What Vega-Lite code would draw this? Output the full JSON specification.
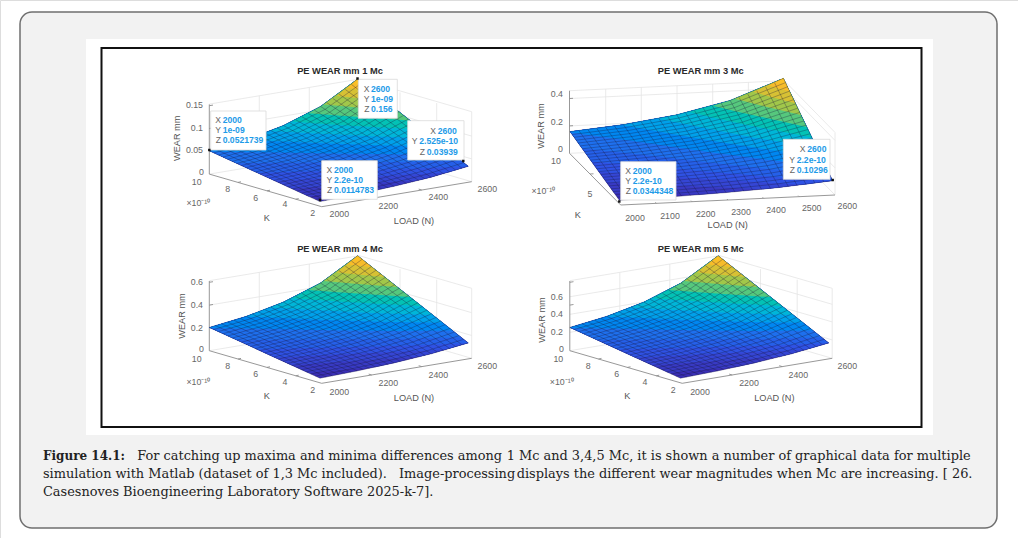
{
"$schema":"https://vega.github.io/schema/vega-lite/v6.json",
"width":1018,"height":538,"padding":0,"autosize":"none","background":"#ffffff",
"datasets":{
"page":[
{"x":20,"y":12,"x2":997,"y2":528,"kind":"frame"}],
"sheet":[
{"x":86,"y":39,"x2":933,"y2":435}],
"border":[
{"x":101.5,"y":48,"x2":921.5,"y2":427}],
"tips":[
{"x":210.7,"y":111,"x2":266,"y2":150},{"x":358.3,"y":79.3,"x2":397.3,"y2":118.3},{"x":407.7,"y":120.7,"x2":464,"y2":160},{"x":321.7,"y":160.7,"x2":377.3,"y2":199.3},
{"x":620.7,"y":161.7,"x2":676,"y2":200},{"x":783.3,"y":139.3,"x2":830,"y2":179.3}],
"tipPoints":[
{"x":209.3,"y":150},{"x":357.5,"y":78.5},{"x":463.3,"y":161},{"x":320,"y":200},{"x":619.3,"y":201.5},{"x":832.7,"y":180}],
"tipKeys":[
{"x":221,"y":119.7,"s":"X"},{"x":221,"y":129.7,"s":"Y"},{"x":221,"y":140,"s":"Z"},
{"x":369.5,"y":88.7,"s":"X"},{"x":369.5,"y":99.3,"s":"Y"},{"x":369.5,"y":109.3,"s":"Z"},
{"x":436,"y":131,"s":"X"},{"x":417.6,"y":141.3,"s":"Y"},{"x":425,"y":151.7,"s":"Z"},
{"x":332.3,"y":170,"s":"X"},{"x":332.3,"y":180.3,"s":"Y"},{"x":332.3,"y":190.3,"s":"Z"},
{"x":631,"y":170.7,"s":"X"},{"x":631,"y":181,"s":"Y"},{"x":631,"y":191.3,"s":"Z"},
{"x":805.6,"y":149.3,"s":"X"},{"x":795,"y":160,"s":"Y"},{"x":795,"y":170.3,"s":"Z"}],
"tipValues":[
{"x":222.7,"y":119.7,"s":"2000"},{"x":222.7,"y":129.7,"s":"1e-09"},{"x":222.7,"y":140,"s":"0.0521739"},
{"x":371,"y":88.7,"s":"2600"},{"x":371,"y":99.3,"s":"1e-09"},{"x":371,"y":109.3,"s":"0.156"},
{"x":437.7,"y":131,"s":"2600"},{"x":419.3,"y":141.3,"s":"2.525e-10"},{"x":426.7,"y":151.7,"s":"0.03939"},
{"x":334,"y":170,"s":"2000"},{"x":334,"y":180.3,"s":"2.2e-10"},{"x":334,"y":190.3,"s":"0.0114783"},
{"x":632.7,"y":170.7,"s":"2000"},{"x":632.7,"y":181,"s":"2.2e-10"},{"x":632.7,"y":191.3,"s":"0.0344348"},
{"x":807.3,"y":149.3,"s":"2600"},{"x":796.7,"y":160,"s":"2.2e-10"},{"x":796.7,"y":170.3,"s":"0.10296"}],
"titles":[
{"x":340,"y":71,"s":"PE WEAR mm 1 Mc"},{"x":700.7,"y":71,"s":"PE WEAR mm 3 Mc"},{"x":340,"y":249,"s":"PE WEAR mm 4 Mc"},{"x":700.7,"y":249,"s":"PE WEAR mm 5 Mc"}],
"wearTicks":[
{"x":203,"y":105,"s":"0.15"},{"x":203,"y":127.7,"s":"0.1"},{"x":203,"y":150,"s":"0.05"},{"x":204,"y":172.3,"s":"0"},
{"x":563,"y":94.3,"s":"0.4"},{"x":563,"y":121.7,"s":"0.2"},{"x":563,"y":149,"s":"0"},
{"x":203,"y":282.3,"s":"0.6"},{"x":203,"y":305,"s":"0.4"},{"x":203,"y":327.7,"s":"0.2"},{"x":204,"y":349,"s":"0"},
{"x":563,"y":296.7,"s":"0.6"},{"x":563,"y":314.3,"s":"0.4"},{"x":563,"y":332.3,"s":"0.2"},{"x":564,"y":349,"s":"0"}],
"ticks":[
{"x":196.7,"y":181.7,"s":"10"},{"x":227.7,"y":189,"s":"8"},{"x":255.7,"y":197.7,"s":"6"},{"x":285,"y":204.3,"s":"4"},{"x":312.7,"y":212.7,"s":"2"},{"x":198.3,"y":203.3,"s":"×10⁻¹⁰"},{"x":339.3,"y":214,"s":"2000"},{"x":388.3,"y":205.7,"s":"2200"},{"x":438.3,"y":197.3,"s":"2400"},{"x":487.3,"y":189,"s":"2600"},
{"x":556,"y":160.7,"s":"10"},{"x":590,"y":194,"s":"5"},{"x":543.3,"y":191,"s":"×10⁻¹⁰"},{"x":635,"y":218.3,"s":"2000"},{"x":670,"y":215.7,"s":"2100"},{"x":705.7,"y":213.7,"s":"2200"},{"x":741,"y":211.7,"s":"2300"},{"x":776,"y":210,"s":"2400"},{"x":811.7,"y":207.7,"s":"2500"},{"x":847.3,"y":205.7,"s":"2600"},
{"x":196.7,"y":359.3,"s":"10"},{"x":227.7,"y":366,"s":"8"},{"x":255.7,"y":374.3,"s":"6"},{"x":285,"y":382.3,"s":"4"},{"x":312.7,"y":390,"s":"2"},{"x":198.3,"y":381.7,"s":"×10⁻¹⁰"},{"x":339.3,"y":391.7,"s":"2000"},{"x":388.3,"y":382.7,"s":"2200"},{"x":438.3,"y":375,"s":"2400"},{"x":487.3,"y":366,"s":"2600"},
{"x":558.3,"y":359.3,"s":"10"},{"x":588.3,"y":366,"s":"8"},{"x":616.7,"y":374.3,"s":"6"},{"x":645,"y":382.3,"s":"4"},{"x":673.3,"y":390,"s":"2"},{"x":561.7,"y":381.7,"s":"×10⁻¹⁰"},{"x":700,"y":391.7,"s":"2000"},{"x":749,"y":383.3,"s":"2200"},{"x":798.3,"y":375,"s":"2400"},{"x":847.3,"y":366,"s":"2600"}],
"axisTitles":[
{"x":266.7,"y":218.3,"s":"K"},{"x":414,"y":220.7,"s":"LOAD (N)"},{"x":577.7,"y":215,"s":"K"},{"x":727.7,"y":225,"s":"LOAD (N)"},
{"x":266.7,"y":396,"s":"K"},{"x":414,"y":398.3,"s":"LOAD (N)"},{"x":627.3,"y":396,"s":"K"},{"x":774.3,"y":398.3,"s":"LOAD (N)"}],
"wearTitles":[
{"x":177.3,"y":138.3,"s":"WEAR mm"},{"x":541,"y":126,"s":"WEAR mm"},{"x":181.7,"y":316,"s":"WEAR mm"},{"x":542.3,"y":320,"s":"WEAR mm"}],
"captionBold":[{"x":43,"y":455.7,"s":"Figure 14.1:"}],
"caption":[
{"x":137.3,"y":455.7,"s":"For catching up maxima and minima differences among"},
{"x":506.7,"y":455.7,"s":"1 Mc and 3,4,5 Mc, it is shown a number of graphical data for multiple"},
{"x":43,"y":473.5,"s":"simulation with Matlab (dataset of 1,3 Mc included)."},
{"x":399,"y":473.5,"s":"Image-processing"},
{"x":516.7,"y":473.5,"s":"displays the different wear magnitudes when Mc are increasing. [ 26."},
{"x":43,"y":491.7,"s":"Casesnoves Bioengineering Laboratory Software 2025-k-7]."}],
"wallS":[
{"x":259.3,"y":342.4,"x2":259.3,"y2":272.4},{"x":309.3,"y":334,"x2":309.3,"y2":264},{"x":359.3,"y":325.7,"x2":359.3,"y2":255.7},{"x":400,"y":337.5,"x2":400,"y2":269.1},{"x":436.7,"y":348.2,"x2":436.7,"y2":279.7},{"x":471.7,"y":358.3,"x2":471.7,"y2":288.3},
{"x":209.3,"y":350.7,"x2":359.3,"y2":325.7},{"x":359.3,"y":325.7,"x2":471.7,"y2":358.3},{"x":209.3,"y":280.7,"x2":359.3,"y2":255.7},{"x":359.3,"y":255.7,"x2":471.7,"y2":288.3}],
"levelS":[
{"x":209.3,"y":327.9,"x2":359.3,"y2":302.9},{"x":209.3,"y":305.1,"x2":359.3,"y2":280.1},{"x":359.3,"y":302.9,"x2":471.7,"y2":335.5},{"x":359.3,"y":280.1,"x2":471.7,"y2":312.7}],
"level5":[
{"x":209.5,"y":332.3,"x2":359.3,"y2":307.3},{"x":209.5,"y":314.3,"x2":359.3,"y2":289.3},{"x":209.5,"y":296.7,"x2":359.3,"y2":271.7},{"x":359.3,"y":307.3,"x2":471.7,"y2":339.9},{"x":359.3,"y":289.3,"x2":471.7,"y2":321.9},{"x":359.3,"y":271.7,"x2":471.7,"y2":304.3}],
"axS":[
{"x":209.3,"y":350.7,"x2":209.3,"y2":281},{"x":209.3,"y":350.7,"x2":321.7,"y2":383.3},{"x":321.7,"y":383.3,"x2":471.7,"y2":358.3},
{"x":209.3,"y":327.9,"x2":213,"y2":327.3},{"x":209.3,"y":305.1,"x2":213,"y2":304.5},{"x":209.3,"y":282.3,"x2":213,"y2":281.7},
{"x":238,"y":359,"x2":241,"y2":358.4},{"x":267,"y":367.4,"x2":270,"y2":366.8},{"x":295.7,"y":375.8,"x2":298.7,"y2":375.2},
{"x":371.7,"y":375,"x2":368.7,"y2":374.1},{"x":421.7,"y":366.6,"x2":418.7,"y2":365.7}],
"wall3":[
{"x":605.7,"y":151.6,"x2":605.7,"y2":89},{"x":641.3,"y":150,"x2":641.3,"y2":87.3},{"x":677,"y":148.3,"x2":677,"y2":85.7},{"x":712.7,"y":146.6,"x2":712.7,"y2":84},{"x":748.4,"y":145,"x2":748.4,"y2":82.3},{"x":784.3,"y":143.3,"x2":784.3,"y2":80.7},{"x":835,"y":195,"x2":835,"y2":132.4},
{"x":570,"y":153.3,"x2":784.3,"y2":143.3},{"x":784.3,"y":143.3,"x2":835,"y2":195},{"x":570,"y":90.7,"x2":784.3,"y2":80.7},{"x":784.3,"y":80.7,"x2":835,"y2":132.4},
{"x":570,"y":125.9,"x2":784.3,"y2":115.9},{"x":570,"y":98.5,"x2":784.3,"y2":88.5},{"x":784.3,"y":115.9,"x2":835,"y2":167.8},{"x":784.3,"y":88.5,"x2":835,"y2":140.4}],
"ax3":[
{"x":569.5,"y":153.3,"x2":569.5,"y2":90.7},{"x":569.5,"y":153.3,"x2":620.7,"y2":205},{"x":620.7,"y":205,"x2":835,"y2":195},
{"x":569.5,"y":125.9,"x2":573,"y2":125.7},{"x":569.5,"y":98.5,"x2":573,"y2":98.3},
{"x":590,"y":174,"x2":593.5,"y2":173.8},{"x":656.4,"y":203.3,"x2":655.4,"y2":202.3},{"x":692.1,"y":201.7,"x2":691.1,"y2":200.7},{"x":727.9,"y":200,"x2":726.9,"y2":199},{"x":763.6,"y":198.3,"x2":762.6,"y2":197.3},{"x":799.3,"y":196.7,"x2":798.3,"y2":195.7}],
"bandS":[
{"b":0,"t":0.085,"x":[320,209.3,246.4,283.4,320.5,357.6,468.3,431.2,394.1,357.1],"y":[378.2,327.4,316.3,302.1,283,255.7,342.9,353.8,362.9,370.9]},
{"b":1,"t":0.12,"x":[308.6,209.3,246.4,283.4,320.5,357.6,468.3,431.2,394.1,376.2,353.1],"y":[373,327.4,316.3,302.1,283,255.7,342.9,353.8,362.9,366.9,368.9]},
{"b":2,"t":0.16,"x":[291.6,209.3,246.4,283.4,320.5,357.6,468.3,431.2,420.5,386.8,339],"y":[365.2,327.4,316.3,302.1,283,255.7,342.9,353.8,356.6,358.9,362]},
{"b":3,"t":0.2,"x":[274.6,209.3,246.4,283.4,320.5,357.6,468.3,448.2,425.9,375.8,324.9],"y":[357.4,327.4,316.3,302.1,283,255.7,342.9,349,350.4,352.8,355]},
{"b":4,"t":0.245,"x":[257.6,209.3,246.4,283.4,320.5,357.6,468.3,417.8,364.8,310.8],"y":[349.5,327.4,316.3,302.1,283,255.7,342.9,345.2,346.8,348.1]},
{"b":5,"t":0.3,"x":[236.3,209.3,246.4,283.4,320.5,357.6,461.2,407.6,351,293.2],"y":[339.8,327.4,316.3,302.1,283,255.7,337.3,338.7,339.2,339.4]},
{"b":6,"t":0.365,"x":[210.7,209.3,246.4,283.4,320.5,357.6,452.7,395.4,334.5,272.1],"y":[328.1,327.4,316.3,302.1,283,255.7,330.6,330.9,330.2,329]},
{"b":7,"t":0.435,"x":[245.1,283.4,320.5,357.6,442.7,381.2,315.2,281.4],"y":[316.7,302.1,283,255.7,322.8,321.8,319.6,318.1]},
{"b":8,"t":0.51,"x":[270.5,283.4,320.5,357.6,432.8,367,296],"y":[307.5,302.1,283,255.7,315,312.7,309]},
{"b":9,"t":0.59,"x":[291.9,320.5,357.6,421.5,350.7,313],"y":[298.2,283,255.7,306,302.3,299.8]},
{"b":10,"t":0.675,"x":[308.6,320.5,357.6,410.1,334.5],"y":[289.9,283,255.7,297.1,291.9]},
{"b":11,"t":0.765,"x":[323.6,357.6,397.3,358],"y":[281,255.7,287,284]},
{"b":12,"t":0.855,"x":[336.6,357.6,384.6,356.9],"y":[272.5,255.7,276.9,274.5]},
{"b":13,"t":0.925,"x":[347.1,357.6,371.8],"y":[264.5,255.7,266.9]},
{"b":14,"t":0.975,"x":[352.7,357.6,364.7],"y":[260,255.7,261.3]}],
"band3":[
{"b":0,"t":0.085,"x":[619.3,570,623.4,676.7,730.1,783.4,832.7,779.4,726,672.7],"y":[200.2,131.6,124.6,114.8,100.4,78.3,180.7,187.5,192.6,196.7]},
{"b":1,"t":0.12,"x":[614.2,570,623.4,676.7,730.1,783.4,832.7,779.4,726,700.2,670.9],"y":[193.2,131.6,124.6,114.8,100.4,78.3,180.7,187.5,192.6,194.7,194.1]},
{"b":2,"t":0.16,"x":[606.7,570,623.4,676.7,730.1,783.4,832.7,779.4,763.9,722.7,664.6],"y":[182.6,131.6,124.6,114.8,100.4,78.3,180.7,187.5,189.2,187.5,184.9]},
{"b":3,"t":0.2,"x":[599.1,570,623.4,676.7,730.1,783.4,832.7,803.8,777,717.8,658.4],"y":[172.1,131.6,124.6,114.8,100.4,78.3,180.7,184.7,183.3,179.7,175.7]},
{"b":4,"t":0.245,"x":[591.5,570,623.4,676.7,730.1,783.4,832.7,773.4,712.9,652.1],"y":[161.5,131.6,124.6,114.8,100.4,78.3,180.7,176.9,172,166.6]},
{"b":5,"t":0.3,"x":[582,570,623.4,676.7,730.1,783.4,829.5,768.9,706.8,644.3],"y":[148.3,131.6,124.6,114.8,100.4,78.3,174.1,168.9,162.3,155.1]},
{"b":6,"t":0.365,"x":[570.6,570,623.4,676.7,730.1,783.4,825.7,763.5,699.5,634.8],"y":[132.5,131.6,124.6,114.8,100.4,78.3,166.3,159.3,150.7,141.3]},
{"b":7,"t":0.435,"x":[621.5,676.7,730.1,783.4,821.3,757.1,690.9,657.3],"y":[124.9,114.8,100.4,78.3,157.1,148.1,137.2,131.2]},
{"b":8,"t":0.51,"x":[658,676.7,730.1,783.4,816.9,750.8,682.3],"y":[118.7,114.8,100.4,78.3,147.9,137,123.6]},
{"b":9,"t":0.59,"x":[688.9,730.1,783.4,811.8,743.6,708.3],"y":[112,100.4,78.3,137.4,124.2,116.4]},
{"b":10,"t":0.675,"x":[712.9,730.1,783.4,806.8,736.3],"y":[105.7,100.4,78.3,126.9,111.4]},
{"b":11,"t":0.765,"x":[734.5,783.4,801.1,765.1],"y":[98.8,78.3,115.1,106.6]},
{"b":12,"t":0.855,"x":[753.2,783.4,795.4,770.8],"y":[91.8,78.3,103.2,97]},
{"b":13,"t":0.925,"x":[768.3,783.4,789.7],"y":[85.6,78.3,91.4]},
{"b":14,"t":0.975,"x":[776.3,783.4,786.6],"y":[82,78.3,84.9]}],
"kS":[
{"x":320,"y":378.2,"x2":209.3,"y2":327.4},{"x":326.2,"y":377,"x2":215.5,"y2":325.7},{"x":332.4,"y":375.8,"x2":221.7,"y2":323.9},{"x":338.5,"y":374.6,"x2":227.8,"y2":322.1},{"x":344.7,"y":373.3,"x2":234,"y2":320.2},{"x":350.9,"y":372.1,"x2":240.2,"y2":318.3},{"x":357.1,"y":370.9,"x2":246.4,"y2":316.3},{"x":363.3,"y":369.6,"x2":252.6,"y2":314.1},{"x":369.4,"y":368.3,"x2":258.7,"y2":312},{"x":375.6,"y":367,"x2":264.9,"y2":309.6},{"x":381.8,"y":365.6,"x2":271.1,"y2":307.3},{"x":388,"y":364.3,"x2":277.3,"y2":304.7},{"x":394.1,"y":362.9,"x2":283.4,"y2":302.1},{"x":400.3,"y":361.4,"x2":289.6,"y2":299.3},{"x":406.5,"y":360,"x2":295.8,"y2":296.4},{"x":412.7,"y":358.5,"x2":302,"y2":293.4},{"x":418.9,"y":357,"x2":308.2,"y2":290.1},{"x":425,"y":355.4,"x2":314.3,"y2":286.7},{"x":431.2,"y":353.8,"x2":320.5,"y2":283},{"x":437.4,"y":352.1,"x2":326.7,"y2":279.2},{"x":443.6,"y":350.4,"x2":332.9,"y2":275.1},{"x":449.8,"y":348.6,"x2":339.1,"y2":270.7},{"x":455.9,"y":346.8,"x2":345.2,"y2":266},{"x":462.1,"y":344.9,"x2":351.4,"y2":261},{"x":468.3,"y":342.9,"x2":357.6,"y2":255.7}],
"k3":[
{"x":619.3,"y":200.2,"x2":570,"y2":131.6},{"x":628.2,"y":199.7,"x2":578.9,"y2":130.6},{"x":637.1,"y":199.1,"x2":587.8,"y2":129.5},{"x":646,"y":198.6,"x2":596.7,"y2":128.4},{"x":654.9,"y":198,"x2":605.6,"y2":127.2},{"x":663.8,"y":197.4,"x2":614.5,"y2":126},{"x":672.7,"y":196.7,"x2":623.4,"y2":124.6},{"x":681.5,"y":196.1,"x2":632.2,"y2":123.2},{"x":690.4,"y":195.5,"x2":641.1,"y2":121.7},{"x":699.3,"y":194.8,"x2":650,"y2":120.1},{"x":708.2,"y":194.1,"x2":658.9,"y2":118.5},{"x":717.1,"y":193.4,"x2":667.8,"y2":116.7},{"x":726,"y":192.6,"x2":676.7,"y2":114.8},{"x":734.9,"y":191.9,"x2":685.6,"y2":112.8},{"x":743.8,"y":191.1,"x2":694.5,"y2":110.6},{"x":752.7,"y":190.2,"x2":703.4,"y2":108.3},{"x":761.6,"y":189.4,"x2":712.3,"y2":105.9},{"x":770.5,"y":188.5,"x2":721.2,"y2":103.2},{"x":779.4,"y":187.5,"x2":730.1,"y2":100.4},{"x":788.3,"y":186.5,"x2":739,"y2":97.3},{"x":797.1,"y":185.5,"x2":747.8,"y2":94.1},{"x":806,"y":184.4,"x2":756.7,"y2":90.6},{"x":814.9,"y":183.2,"x2":765.6,"y2":86.8},{"x":823.8,"y":182,"x2":774.5,"y2":82.7},{"x":832.7,"y":180.7,"x2":783.4,"y2":78.3}],
"lS":[
{"j":0,"x":[320,357.1,394.1,431.2,468.3],"y":[378.2,370.9,362.9,353.8,342.9]},
{"j":1,"x":[315.4,352.5,389.5,426.6,463.7],"y":[376.1,368.6,360.4,350.9,339.3]},
{"j":2,"x":[310.8,347.9,384.9,422,459.1],"y":[374,366.4,357.8,347.9,335.6]},
{"j":3,"x":[306.2,343.3,380.3,417.4,454.5],"y":[371.8,364.1,355.3,345,332]},
{"j":4,"x":[301.6,338.7,375.7,412.8,449.9],"y":[369.7,361.8,352.8,342,328.4]},
{"j":5,"x":[296.9,334,371,408.1,445.2],"y":[367.6,359.5,350.2,339.1,324.7]},
{"j":6,"x":[292.3,329.4,366.4,403.5,440.6],"y":[365.5,357.2,347.7,336.1,321.1]},
{"j":7,"x":[287.7,324.8,361.8,398.9,436],"y":[363.4,355,345.2,333.2,317.5]},
{"j":8,"x":[283.1,320.2,357.2,394.3,431.4],"y":[361.3,352.7,342.6,330.2,313.8]},
{"j":9,"x":[278.5,315.6,352.6,389.7,426.8],"y":[359.1,350.4,340.1,327.3,310.2]},
{"j":10,"x":[273.9,311,348,385.1,422.2],"y":[357,348.1,337.6,324.3,306.6]},
{"j":11,"x":[269.3,306.4,343.4,380.5,417.6],"y":[354.9,345.9,335,321.4,302.9]},
{"j":12,"x":[264.6,301.7,338.7,375.8,412.9],"y":[352.8,343.6,332.5,318.4,299.3]},
{"j":13,"x":[260,297.1,334.1,371.2,408.3],"y":[350.7,341.3,330,315.5,295.7]},
{"j":14,"x":[255.4,292.5,329.5,366.6,403.7],"y":[348.6,339,327.4,312.5,292]},
{"j":15,"x":[250.8,287.9,324.9,362,399.1],"y":[346.4,336.8,324.9,309.6,288.4]},
{"j":16,"x":[246.2,283.3,320.3,357.4,394.5],"y":[344.3,334.5,322.4,306.6,284.8]},
{"j":17,"x":[241.6,278.7,315.7,352.8,389.9],"y":[342.2,332.2,319.8,303.7,281.1]},
{"j":18,"x":[237,274.1,311.1,348.2,385.3],"y":[340.1,329.9,317.3,300.7,277.5]},
{"j":19,"x":[232.4,269.5,306.5,343.6,380.7],"y":[338,327.7,314.8,297.8,273.9]},
{"j":20,"x":[227.8,264.9,301.9,339,376.1],"y":[335.9,325.4,312.2,294.8,270.2]},
{"j":21,"x":[223.1,260.2,297.2,334.3,371.4],"y":[333.7,323.1,309.7,291.9,266.6]},
{"j":22,"x":[218.5,255.6,292.6,329.7,366.8],"y":[331.6,320.8,307.2,288.9,263]},
{"j":23,"x":[213.9,251,288,325.1,362.2],"y":[329.5,318.6,304.6,286,259.3]},
{"j":24,"x":[209.3,246.4,283.4,320.5,357.6],"y":[327.4,316.3,302.1,283,255.7]}],
"l3":[
{"j":0,"x":[619.3,672.7,726,779.4,832.7],"y":[200.2,196.7,192.6,187.5,180.7]},
{"j":1,"x":[617.2,670.6,724,777.3,830.7],"y":[197.3,193.7,189.4,183.9,176.4]},
{"j":2,"x":[615.2,668.6,721.9,775.3,828.6],"y":[194.5,190.7,186.1,180.2,172.2]},
{"j":3,"x":[613.1,666.5,719.8,773.2,826.5],"y":[191.6,187.7,182.9,176.6,167.9]},
{"j":4,"x":[611.1,664.5,717.8,771.2,824.5],"y":[188.8,184.7,179.6,173,163.6]},
{"j":5,"x":[609,662.4,715.7,769.1,822.4],"y":[185.9,181.7,176.4,169.4,159.4]},
{"j":6,"x":[607,660.4,713.7,767.1,820.4],"y":[183.1,178.7,173.1,165.7,155.1]},
{"j":7,"x":[604.9,658.3,711.6,765,818.3],"y":[180.2,175.7,169.9,162.1,150.8]},
{"j":8,"x":[602.9,656.3,709.6,763,816.3],"y":[177.3,172.7,166.7,158.5,146.6]},
{"j":9,"x":[600.8,654.2,707.5,760.9,814.2],"y":[174.5,169.7,163.4,154.8,142.3]},
{"j":10,"x":[598.8,652.2,705.5,758.9,812.2],"y":[171.6,166.7,160.2,151.2,138]},
{"j":11,"x":[596.7,650.1,703.4,756.8,810.1],"y":[168.8,163.7,156.9,147.6,133.8]},
{"j":12,"x":[594.7,648,701.4,754.8,808.1],"y":[165.9,160.7,153.7,143.9,129.5]},
{"j":13,"x":[592.6,646,699.3,752.7,806],"y":[163,157.6,150.5,140.3,125.2]},
{"j":14,"x":[590.5,643.9,697.2,750.6,803.9],"y":[160.2,154.6,147.2,136.7,121]},
{"j":15,"x":[588.5,641.9,695.2,748.6,801.9],"y":[157.3,151.6,144,133.1,116.7]},
{"j":16,"x":[586.4,639.8,693.1,746.5,799.8],"y":[154.5,148.6,140.7,129.4,112.4]},
{"j":17,"x":[584.4,637.8,691.1,744.5,797.8],"y":[151.6,145.6,137.5,125.8,108.2]},
{"j":18,"x":[582.3,635.7,689,742.4,795.7],"y":[148.8,142.6,134.2,122.2,103.9]},
{"j":19,"x":[580.3,633.7,687,740.4,793.7],"y":[145.9,139.6,131,118.5,99.6]},
{"j":20,"x":[578.2,631.6,684.9,738.3,791.6],"y":[143,136.6,127.8,114.9,95.4]},
{"j":21,"x":[576.2,629.6,682.9,736.3,789.6],"y":[140.2,133.6,124.5,111.3,91.1]},
{"j":22,"x":[574.1,627.5,680.8,734.2,787.5],"y":[137.3,130.6,121.3,107.7,86.8]},
{"j":23,"x":[572.1,625.5,678.8,732.2,785.5],"y":[134.5,127.6,118,104,82.6]},
{"j":24,"x":[570,623.4,676.7,730.1,783.4],"y":[131.6,124.6,114.8,100.4,78.3]}]
},
"resolve":{"scale":{"x":"independent","y":"independent"}},
"layer":[
{"encoding":{
"x":{"field":"x","type":"quantitative","axis":null,"scale":{"domain":[0,1018],"nice":false,"zero":false}},
"y":{"field":"y","type":"quantitative","axis":null,"scale":{"domain":[538,0],"nice":false,"zero":false}},
"x2":{"field":"x2"},"y2":{"field":"y2"}},
"layer":[
{"data":{"name":"page"},"mark":{"type":"rect","fill":"#f2f2f2","stroke":"#6f6f6f","strokeWidth":1.5,"cornerRadius":12}},
{"data":{"name":"sheet"},"mark":{"type":"rect","fill":"#ffffff"}},
{"data":{"name":"border"},"mark":{"type":"rect","fill":"#ffffff","stroke":"#111111","strokeWidth":2}}
]},
{"encoding":{
"x":{"field":"x","type":"quantitative","axis":null,"scale":{"domain":[0,1018],"nice":false,"zero":false}},
"y":{"field":"y","type":"quantitative","axis":null,"scale":{"domain":[714.6,176.6],"nice":false,"zero":false}}},
"layer":[
{"data":{"name":"wallS"},"mark":{"type":"rule","color":"#e4e4e4","strokeWidth":0.8},"encoding":{"x2":{"field":"x2"},"y2":{"field":"y2"}}},
{"data":{"name":"levelS"},"mark":{"type":"rule","color":"#e4e4e4","strokeWidth":0.8},"encoding":{"x2":{"field":"x2"},"y2":{"field":"y2"}}},
{"data":{"name":"axS"},"mark":{"type":"rule","color":"#8c8c8c","strokeWidth":0.9},"encoding":{"x2":{"field":"x2"},"y2":{"field":"y2"}}},
{"data":{"name":"bandS"},"transform":[{"flatten":["x","y"]},{"window":[{"op":"row_number","as":"o"}]}],"mark":{"type":"line","filled":true,"interpolate":"linear-closed","strokeWidth":0},"encoding":{"detail":{"field":"b"},"order":{"field":"o"},"color":{"field":"t","type":"quantitative","legend":null,"scale":{"domain":[0.07,0.2,0.33,0.45,0.55,0.63,0.72,0.82,0.92,1],"range":["#3a2ab0","#2f52e4","#1e78f0","#0fa6e8","#10bfca","#30c49c","#80c85c","#c8c23c","#f6bc2a","#ffc424"]}}}},
{"data":{"name":"kS"},"mark":{"type":"rule","color":"#15153a","opacity":0.45,"strokeWidth":0.7},"encoding":{"x2":{"field":"x2"},"y2":{"field":"y2"}}},
{"data":{"name":"lS"},"transform":[{"flatten":["x","y"]},{"window":[{"op":"row_number","as":"o"}]}],"mark":{"type":"line","color":"#15153a","opacity":0.45,"strokeWidth":0.7},"encoding":{"detail":{"field":"j"},"order":{"field":"o"}}}
]},
{"encoding":{
"x":{"field":"x","type":"quantitative","axis":null,"scale":{"domain":[0,1018],"nice":false,"zero":false}},
"y":{"field":"y","type":"quantitative","axis":null,"scale":{"domain":[538,0],"nice":false,"zero":false}}},
"layer":[
{"data":{"name":"wall3"},"mark":{"type":"rule","color":"#e4e4e4","strokeWidth":0.8},"encoding":{"x2":{"field":"x2"},"y2":{"field":"y2"}}},
{"data":{"name":"ax3"},"mark":{"type":"rule","color":"#8c8c8c","strokeWidth":0.9},"encoding":{"x2":{"field":"x2"},"y2":{"field":"y2"}}},
{"data":{"name":"band3"},"transform":[{"flatten":["x","y"]},{"window":[{"op":"row_number","as":"o"}]}],"mark":{"type":"line","filled":true,"interpolate":"linear-closed","strokeWidth":0},"encoding":{"detail":{"field":"b"},"order":{"field":"o"},"color":{"field":"t","type":"quantitative","legend":null}}},
{"data":{"name":"k3"},"mark":{"type":"rule","color":"#15153a","opacity":0.45,"strokeWidth":0.7},"encoding":{"x2":{"field":"x2"},"y2":{"field":"y2"}}},
{"data":{"name":"l3"},"transform":[{"flatten":["x","y"]},{"window":[{"op":"row_number","as":"o"}]}],"mark":{"type":"line","color":"#15153a","opacity":0.45,"strokeWidth":0.7},"encoding":{"detail":{"field":"j"},"order":{"field":"o"}}}
]},
{"encoding":{
"x":{"field":"x","type":"quantitative","axis":null,"scale":{"domain":[0,1018],"nice":false,"zero":false}},
"y":{"field":"y","type":"quantitative","axis":null,"scale":{"domain":[538,0],"nice":false,"zero":false}}},
"layer":[
{"data":{"name":"wallS"},"mark":{"type":"rule","color":"#e4e4e4","strokeWidth":0.8},"encoding":{"x2":{"field":"x2"},"y2":{"field":"y2"}}},
{"data":{"name":"levelS"},"mark":{"type":"rule","color":"#e4e4e4","strokeWidth":0.8},"encoding":{"x2":{"field":"x2"},"y2":{"field":"y2"}}},
{"data":{"name":"axS"},"mark":{"type":"rule","color":"#8c8c8c","strokeWidth":0.9},"encoding":{"x2":{"field":"x2"},"y2":{"field":"y2"}}},
{"data":{"name":"bandS"},"transform":[{"flatten":["x","y"]},{"window":[{"op":"row_number","as":"o"}]}],"mark":{"type":"line","filled":true,"interpolate":"linear-closed","strokeWidth":0},"encoding":{"detail":{"field":"b"},"order":{"field":"o"},"color":{"field":"t","type":"quantitative","legend":null}}},
{"data":{"name":"kS"},"mark":{"type":"rule","color":"#15153a","opacity":0.45,"strokeWidth":0.7},"encoding":{"x2":{"field":"x2"},"y2":{"field":"y2"}}},
{"data":{"name":"lS"},"transform":[{"flatten":["x","y"]},{"window":[{"op":"row_number","as":"o"}]}],"mark":{"type":"line","color":"#15153a","opacity":0.45,"strokeWidth":0.7},"encoding":{"detail":{"field":"j"},"order":{"field":"o"}}}
]},
{"encoding":{
"x":{"field":"x","type":"quantitative","axis":null,"scale":{"domain":[-360.5,657.5],"nice":false,"zero":false}},
"y":{"field":"y","type":"quantitative","axis":null,"scale":{"domain":[538,0],"nice":false,"zero":false}}},
"layer":[
{"data":{"name":"wallS"},"mark":{"type":"rule","color":"#e4e4e4","strokeWidth":0.8},"encoding":{"x2":{"field":"x2"},"y2":{"field":"y2"}}},
{"data":{"name":"level5"},"mark":{"type":"rule","color":"#e4e4e4","strokeWidth":0.8},"encoding":{"x2":{"field":"x2"},"y2":{"field":"y2"}}},
{"data":{"name":"axS"},"mark":{"type":"rule","color":"#8c8c8c","strokeWidth":0.9},"encoding":{"x2":{"field":"x2"},"y2":{"field":"y2"}}},
{"data":{"name":"bandS"},"transform":[{"flatten":["x","y"]},{"window":[{"op":"row_number","as":"o"}]}],"mark":{"type":"line","filled":true,"interpolate":"linear-closed","strokeWidth":0},"encoding":{"detail":{"field":"b"},"order":{"field":"o"},"color":{"field":"t","type":"quantitative","legend":null}}},
{"data":{"name":"kS"},"mark":{"type":"rule","color":"#15153a","opacity":0.45,"strokeWidth":0.7},"encoding":{"x2":{"field":"x2"},"y2":{"field":"y2"}}},
{"data":{"name":"lS"},"transform":[{"flatten":["x","y"]},{"window":[{"op":"row_number","as":"o"}]}],"mark":{"type":"line","color":"#15153a","opacity":0.45,"strokeWidth":0.7},"encoding":{"detail":{"field":"j"},"order":{"field":"o"}}}
]},
{"encoding":{
"x":{"field":"x","type":"quantitative","axis":null,"scale":{"domain":[0,1018],"nice":false,"zero":false}},
"y":{"field":"y","type":"quantitative","axis":null,"scale":{"domain":[538,0],"nice":false,"zero":false}}},
"layer":[
{"data":{"name":"tips"},"mark":{"type":"rect","fill":"#ffffff","stroke":"#d9d9d9","strokeWidth":0.8},"encoding":{"x2":{"field":"x2"},"y2":{"field":"y2"}}},
{"data":{"name":"tipPoints"},"mark":{"type":"point","shape":"square","filled":true,"size":6,"color":"#111111","opacity":1}},
{"data":{"name":"tipKeys"},"mark":{"type":"text","align":"right","baseline":"middle","font":"Liberation Sans","fontSize":8.6,"color":"#666666"},"encoding":{"text":{"field":"s"}}},
{"data":{"name":"tipValues"},"mark":{"type":"text","align":"left","baseline":"middle","font":"Liberation Sans","fontSize":8.6,"fontWeight":"bold","color":"#1e9be8"},"encoding":{"text":{"field":"s"}}},
{"data":{"name":"titles"},"mark":{"type":"text","align":"center","baseline":"middle","font":"Liberation Sans","fontSize":9.3,"fontWeight":"bold","color":"#2a2a2a"},"encoding":{"text":{"field":"s"}}},
{"data":{"name":"wearTicks"},"mark":{"type":"text","align":"right","baseline":"middle","font":"Liberation Sans","fontSize":8.8,"color":"#666666"},"encoding":{"text":{"field":"s"}}},
{"data":{"name":"ticks"},"mark":{"type":"text","align":"center","baseline":"middle","font":"Liberation Sans","fontSize":8.8,"color":"#666666"},"encoding":{"text":{"field":"s"}}},
{"data":{"name":"axisTitles"},"mark":{"type":"text","align":"center","baseline":"middle","font":"Liberation Sans","fontSize":9.2,"color":"#555555"},"encoding":{"text":{"field":"s"}}},
{"data":{"name":"wearTitles"},"mark":{"type":"text","align":"center","baseline":"middle","angle":270,"font":"Liberation Sans","fontSize":9.2,"color":"#555555"},"encoding":{"text":{"field":"s"}}},
{"data":{"name":"captionBold"},"mark":{"type":"text","align":"left","baseline":"middle","font":"DejaVu Serif","fontSize":12,"fontWeight":"bold","color":"#222222"},"encoding":{"text":{"field":"s"}}},
{"data":{"name":"caption"},"mark":{"type":"text","align":"left","baseline":"middle","font":"DejaVu Serif","fontSize":12.9,"color":"#222222"},"encoding":{"text":{"field":"s"}}}
]}
]
}
